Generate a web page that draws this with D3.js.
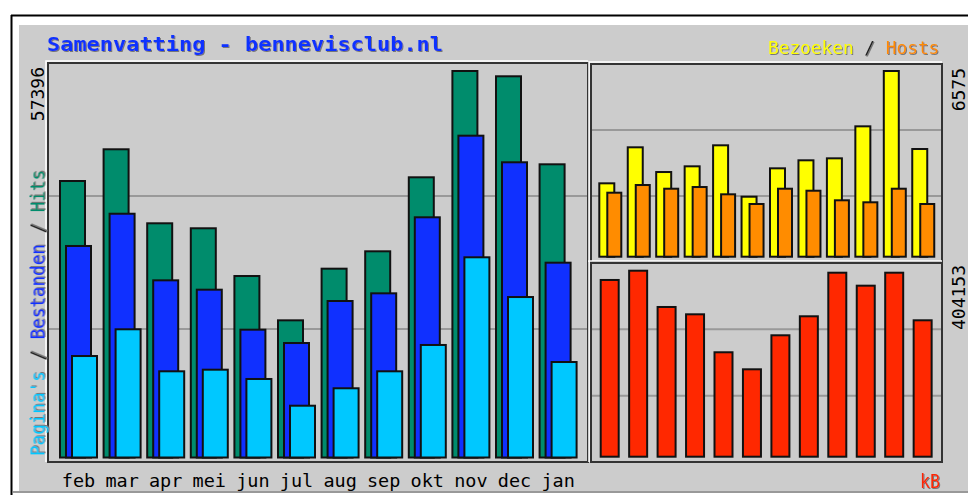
<!DOCTYPE html>
<html>
<head>
<meta charset="utf-8">
<script src="https://cdn.jsdelivr.net/npm/d3@7"></script>
<style>
  body { margin: 0; background: #fff; }
  svg { display: block; }
</style>
</head>
<body>
<svg id="chart" width="968" height="495"></svg>
<script>
// Month categories (Dutch)
const months = ["feb", "mar", "apr", "mei", "jun", "jul", "aug", "sep", "okt", "nov", "dec", "jan"];

// Main panel series
const hits = [41060, 45770, 34780, 34040, 26950, 20370, 28040, 30620, 41610, 57396, 56610, 43540];
const files = [31410, 36200, 26310, 24920, 18980, 17000, 23240, 24380, 35670, 47790, 43840, 28930];
const pages = [15070, 19040, 12800, 13040, 11660, 7690, 10280, 12800, 16710, 29730, 23830, 14180];

// Top right panel series
const visits = [2598, 3873, 2998, 3200, 3944, 2124, 3129, 3413, 3483, 4616, 6575, 3813];
const sites = [2266, 2538, 2407, 2467, 2209, 1866, 2407, 2336, 1997, 1926, 2407, 1866];

// Bottom right panel series
const kbytes = [384000, 404153, 325300, 309400, 226900, 189900, 263800, 305100, 399800, 371600, 399800, 296400];

// Axis max labels
const maxLabels = ["57396", "6575", "404153"];

const col = {
  hits: "#008c6c", files: "#1030ff", pages: "#00c8ff",
  visits: "#ffff00", sites: "#ff8c00", kbytes: "#ff2800",
  bg: "#cccccc", grid: "#999999", frame: "#333333"
};

let svg = d3.select("#chart");

// Shadow filter for the coloured labels
svg.append("defs").append("filter")
  .attr("id", "shadow")
  .attr("x", "-5%").attr("y", "-20%").attr("width", "110%").attr("height", "140%")
  .append("feDropShadow")
  .attr("dx", 1).attr("dy", 1).attr("stdDeviation", 0)
  .attr("flood-color", "#777").attr("flood-opacity", 1);

// Outer border and grey background
svg.append("rect").attr("x", 19).attr("y", 25).attr("width", 949).attr("height", 466).attr("fill", col.bg);
svg.append("line").attr("x1", 11).attr("y1", 15.5).attr("x2", 968).attr("y2", 15.5).attr("stroke", "#000").attr("stroke-width", 2);
svg.append("line").attr("x1", 11.5).attr("y1", 15).attr("x2", 11.5).attr("y2", 495).attr("stroke", "#000").attr("stroke-width", 2);
svg.append("line").attr("x1", 13).attr("y1", 492).attr("x2", 968).attr("y2", 492).attr("stroke", "#999").attr("stroke-width", 2);

// Panel frames: [x0, y0, x1, y1]
const mainBox = [48, 63, 588, 462];
const topBox = [591, 64, 942, 262];
const botBox = [591, 263, 942, 462];

function panel(b) {
  // white highlight on top/left, grid at thirds, dark frame
  svg.append("path")
    .attr("d", `M${b[0] - 2},${b[3]} V${b[1] - 2} H${b[2]}`)
    .attr("fill", "none").attr("stroke", "#fff").attr("stroke-width", 1.5);
  let h = (b[3] - b[1]) / 3;
  [1, 2].forEach(k => {
    svg.append("line")
      .attr("x1", b[0]).attr("x2", b[2])
      .attr("y1", b[1] + k * h).attr("y2", b[1] + k * h)
      .attr("stroke", col.grid).attr("stroke-width", 2);
  });
  svg.append("rect")
    .attr("x", b[0]).attr("y", b[1])
    .attr("width", b[2] - b[0]).attr("height", b[3] - b[1])
    .attr("fill", "none").attr("stroke", col.frame).attr("stroke-width", 2);
}
panel(mainBox);
panel(topBox);
panel(botBox);

// Scales
let xMain = d3.scaleBand().domain(months).range([60, 60 + 12 * 43.6]);
let yMain = d3.scaleLinear().domain([0, 57396]).range([457.5, 71]);

let xRight = d3.scaleBand().domain(months).range([599.3, 599.3 + 12 * 28.45]);
let yTop = d3.scaleLinear().domain([0, 6575]).range([256.7, 71]);
let yBot = d3.scaleLinear().domain([0, 404153]).range([456.7, 270.7]);

function bars(values, x, y, offset, width, fill) {
  svg.append("g").selectAll("rect")
    .data(values)
    .enter()
    .append("rect")
    .attr("x", (d, i) => x(months[i]) + offset)
    .attr("y", d => y(d))
    .attr("width", width)
    .attr("height", d => y(0) - y(d))
    .attr("fill", fill)
    .attr("stroke", "#111")
    .attr("stroke-width", 2);
}

bars(hits, xMain, yMain, 0, 25, col.hits);
bars(files, xMain, yMain, 6, 25, col.files);
bars(pages, xMain, yMain, 12, 25, col.pages);

bars(visits, xRight, yTop, 0, 15, col.visits);
bars(sites, xRight, yTop, 8, 14, col.sites);

bars(kbytes, xRight, yBot, 1.4, 18, col.kbytes);

const mono = "'DejaVu Sans Mono', 'Liberation Mono', monospace";

// Month labels
svg.append("g").selectAll("text")
  .data(months)
  .enter()
  .append("text")
  .attr("x", d => xMain(d) + 18.5)
  .attr("y", 487)
  .attr("text-anchor", "middle")
  .style("font-family", mono)
  .style("font-size", "18.5px")
  .attr("fill", "#000")
  .text(d => d);

// Text with a drop shadow, made of coloured parts
function shadowText(x, y, parts, size, len, rotate, weight) {
  let t = svg.append("text")
    .attr("transform", `translate(${x},${y})` + (rotate ? " rotate(-90)" : ""))
    .attr("filter", "url(#shadow)")
    .style("font-family", mono)
    .style("font-size", size + "px")
    .style("font-weight", weight || "normal");
  if (len) {
    t.attr("textLength", len).attr("lengthAdjust", "spacingAndGlyphs");
  }
  parts.forEach(p => {
    t.append("tspan").attr("fill", p[1]).text(p[0]);
  });
}

// Title
shadowText(47, 51, [["Samenvatting - bennevisclub.nl", "#1030ff"]], 20, 396, false, "bold");

// Legends
shadowText(44.5, 456, [["Pagina's", col.pages], [" / ", "#222"], ["Bestanden", col.files], [" / ", "#222"], ["Hits", col.hits]], 19.5, 286, true);
shadowText(768, 54, [["Bezoeken", col.visits], [" / ", "#222"], ["Hosts", col.sites]], 17.8, null);
shadowText(920, 488, [["kB", col.kbytes]], 19, 20);

// Max value labels (rotated)
const maxPos = [[44, 67], [965, 68], [965, 265]];
maxLabels.forEach((d, i) => {
  svg.append("text")
    .attr("transform", `translate(${maxPos[i][0]},${maxPos[i][1]}) rotate(-90)`)
    .attr("text-anchor", "end")
    .style("font-family", mono)
    .style("font-size", "18px")
    .attr("fill", "#000")
    .text(d);
});
</script>
</body>
</html>
